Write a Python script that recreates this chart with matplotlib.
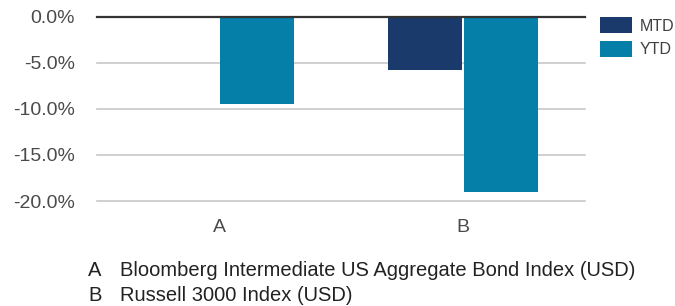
import matplotlib
matplotlib.use("Agg")
import matplotlib.pyplot as plt
import numpy as np

categories = ["A", "B"]
series_names = ["MTD", "YTD"]
mtd = [-0.2, -5.8]
ytd = [-9.5, -19.0]
yticks = [0, -5, -10, -15, -20]
footnotes = [("A", "Bloomberg Intermediate US Aggregate Bond Index (USD)"),
             ("B", "Russell 3000 Index (USD)")]

colors = ["#1a3a6b", "#057ea8"]

plt.rcParams['font.family'] = ['Liberation Sans', 'DejaVu Sans']

fig = plt.figure(figsize=(6.75, 3.06), dpi=100)
ax = fig.add_axes([97/675, 1 - 201/306, (585-97)/675, (201-16.5)/306])

x = np.arange(len(categories))
w = 0.3
gap = 0.006
ax.bar(x - w/2 - gap, mtd, width=w, color=colors[0], label=series_names[0], zorder=3)
ax.bar(x + w/2 + gap, ytd, width=w, color=colors[1], label=series_names[1], zorder=3)

ax.set_xlim(-0.5, len(categories) - 0.5)
ax.set_ylim(-20, 0)
ax.set_yticks(yticks)
ax.set_yticklabels([f"{v:.1f}%" for v in yticks])
for v in yticks:
    if v == 0:
        continue
    ax.axhline(v, color="#c8c8c8", lw=1.2, zorder=1, clip_on=False)
ax.axhline(0, color="#333333", lw=1.6, zorder=4, clip_on=False)

ax.set_xticks(x)
ax.set_xticklabels(categories)
ax.tick_params(axis="both", length=0, labelsize=14, labelcolor="#4a4a4a")
ax.tick_params(axis="y", pad=16)
ax.tick_params(axis="x", pad=13)
for s in ax.spines.values():
    s.set_visible(False)

leg = fig.legend(loc="upper left", bbox_to_anchor=(594/675, 1 - 11/306), frameon=False,
                 fontsize=11.5, handlelength=2.0, handleheight=1.15, handletextpad=0.45,
                 labelspacing=0.45, borderaxespad=0)
for t in leg.get_texts():
    t.set_color("#404040")

ys = [270, 295.5]
for (k, txt), yy in zip(footnotes, ys):
    fig.text(88/675, 1 - yy/306, k, fontsize=14.5, color="#222222", va="center", ha="left")
    fig.text(120/675, 1 - yy/306, txt, fontsize=14.5, color="#222222", va="center", ha="left")

fig.savefig("out.png", dpi=100)
